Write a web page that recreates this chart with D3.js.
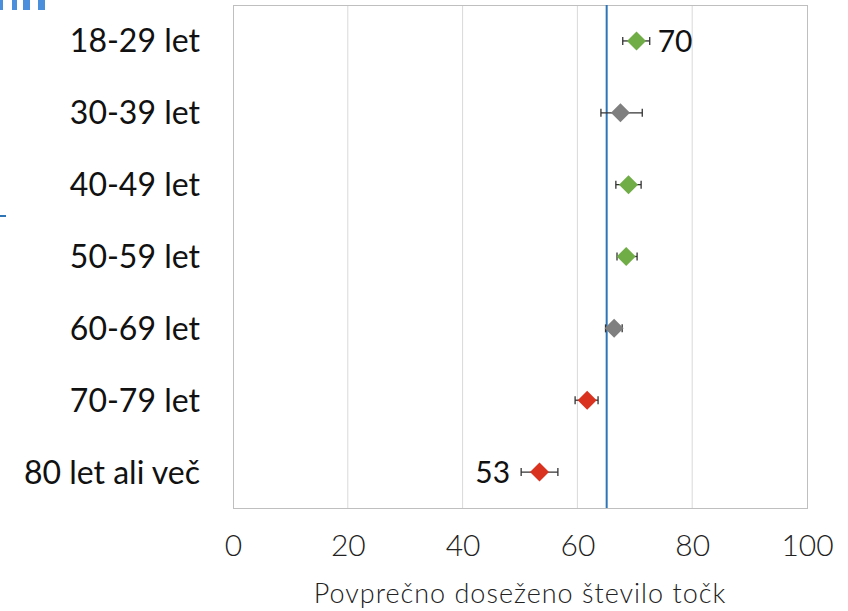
<!DOCTYPE html>
<html>
<head>
<meta charset="utf-8">
<script src="https://cdn.jsdelivr.net/npm/d3@7"></script>
<style>
  body { margin: 0; background: #fff; }
  svg { display: block; }
  .cat text { font-family: Lato, "Open Sans", sans-serif; font-size: 32px; fill: #111; }
  .xaxis text { font-family: Lato, "Open Sans", sans-serif; font-weight: 300; font-size: 30px; fill: #222; }
  .title { font-family: Lato, "Open Sans", sans-serif; font-weight: 300; font-size: 27px; fill: #222; letter-spacing: 1px; }
  .lbl { font-family: Lato, "Open Sans", sans-serif; font-size: 30px; fill: #111; }
</style>
</head>
<body>
<div id="chart"></div>
<script>
// age groups, mean score and error bar ends
const categories = ["18-29 let", "30-39 let", "40-49 let", "50-59 let", "60-69 let", "70-79 let", "80 let ali več"];
const means = [70.3, 67.5, 68.9, 68.5, 66.4, 61.7, 53.4];
const lows  = [67.9, 64.1, 66.7, 66.9, 64.9, 59.6, 50.2];
const highs = [72.6, 71.3, 71.1, 70.4, 67.8, 63.6, 56.6];
const overallMean = 65.1;
const xTicks = [0, 20, 40, 60, 80, 100];

const W = 848, H = 611;
const margin = {top: 5, right: 41, bottom: 103, left: 233};
const width = W - margin.left - margin.right;
const height = H - margin.top - margin.bottom;

const svg = d3.select("#chart").append("svg")
    .attr("width", W)
    .attr("height", H);

// leftover bits from the slide
const deco = svg.append("g");
[[0, 3], [12, 5], [23, 7], [38, 7]].forEach(d => {
    deco.append("rect").attr("x", d[0]).attr("y", 0).attr("width", d[1]).attr("height", 10).attr("fill", "#4a8fdc");
});
deco.append("rect").attr("x", 0).attr("y", 215).attr("width", 6).attr("height", 2).attr("fill", "#2e75b6");

const g = svg.append("g")
    .attr("transform", `translate(${margin.left},${margin.top})`);

const x = d3.scaleLinear().domain([0, 100]).range([0, width]);
const y = d3.scaleBand().domain(categories).range([0, height]);

// gridlines
g.selectAll(".grid")
    .data(xTicks.slice(1, -1))
    .enter().append("line")
    .attr("class", "grid")
    .attr("x1", d => x(d)).attr("x2", d => x(d))
    .attr("y1", 0).attr("y2", height)
    .attr("stroke", "#d9d9d9").attr("stroke-width", 1);

// plot frame
g.append("rect")
    .attr("x", 0.5).attr("y", 0.5)
    .attr("width", width).attr("height", height)
    .attr("fill", "none").attr("stroke", "#bfbfbf").attr("stroke-width", 1);

// overall mean line
g.append("line")
    .attr("x1", x(overallMean)).attr("x2", x(overallMean))
    .attr("y1", 0).attr("y2", height)
    .attr("stroke", "#2e75b6").attr("stroke-width", 2);

// axes
const xAxis = d3.axisBottom(x).tickValues(xTicks).tickSize(0).tickPadding(27);
g.append("g")
    .attr("class", "xaxis")
    .attr("transform", `translate(0,${height})`)
    .call(xAxis)
    .call(s => s.select(".domain").remove());

const yAxis = d3.axisLeft(y).tickSize(0).tickPadding(33);
g.append("g")
    .attr("class", "cat")
    .call(yAxis)
    .call(s => s.select(".domain").remove())
    .selectAll("text").attr("dy", "0.36em");

svg.append("text")
    .attr("class", "title")
    .attr("x", margin.left + width / 2)
    .attr("y", 603)
    .attr("text-anchor", "middle")
    .text("Povprečno doseženo število točk");

const rows = categories.map((c, i) => ({cat: c, mean: means[i], low: lows[i], high: highs[i]}));

function colorOf(d) {
    if (d.low > overallMean) return "#70ad47";
    if (d.high < overallMean) return "#d9321f";
    return "#7f7f7f";
}

const cy = d => y(d.cat) + y.bandwidth() / 2;
const cap = 4;

const pts = g.selectAll(".pt").data(rows).enter().append("g").attr("class", "pt");

pts.append("line")
    .attr("x1", d => x(d.low)).attr("x2", d => x(d.high))
    .attr("y1", cy).attr("y2", cy)
    .attr("stroke", "#333").attr("stroke-width", 1.3);
pts.append("line")
    .attr("x1", d => x(d.low)).attr("x2", d => x(d.low))
    .attr("y1", d => cy(d) - cap).attr("y2", d => cy(d) + cap)
    .attr("stroke", "#333").attr("stroke-width", 1.3);
pts.append("line")
    .attr("x1", d => x(d.high)).attr("x2", d => x(d.high))
    .attr("y1", d => cy(d) - cap).attr("y2", d => cy(d) + cap)
    .attr("stroke", "#333").attr("stroke-width", 1.3);

const dsz = 9.5;
pts.append("path")
    .attr("d", d => {
        const px = x(d.mean), py = cy(d);
        return `M${px},${py - dsz}L${px + dsz},${py}L${px},${py + dsz}L${px - dsz},${py}Z`;
    })
    .attr("fill", colorOf);

// value labels for highest and lowest group
const maxRow = rows.reduce((a, b) => b.mean > a.mean ? b : a);
const minRow = rows.reduce((a, b) => b.mean < a.mean ? b : a);

g.append("text")
    .attr("class", "lbl")
    .attr("x", x(maxRow.high) + 8)
    .attr("y", cy(maxRow))
    .attr("dy", "0.36em")
    .text(Math.round(maxRow.mean));

g.append("text")
    .attr("class", "lbl")
    .attr("x", x(minRow.low) - 11)
    .attr("y", cy(minRow))
    .attr("dy", "0.36em")
    .attr("text-anchor", "end")
    .text(Math.round(minRow.mean));
</script>
</body>
</html>
